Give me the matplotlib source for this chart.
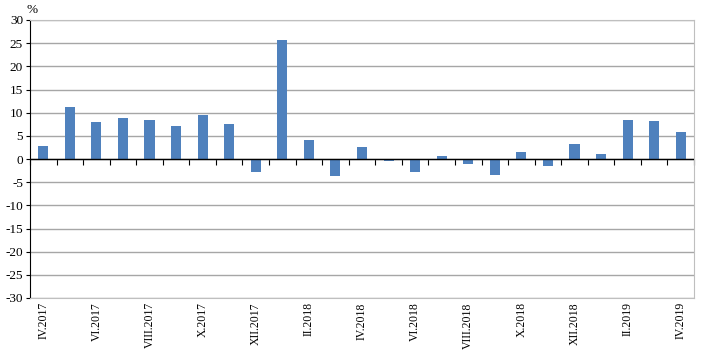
import matplotlib
matplotlib.use("Agg")
import matplotlib.pyplot as plt
import numpy as np

# Monthly data, IV.2017 - IV.2019
months = ["IV.2017", "V.2017", "VI.2017", "VII.2017", "VIII.2017", "IX.2017",
          "X.2017", "XI.2017", "XII.2017", "I.2018", "II.2018", "III.2018",
          "IV.2018", "V.2018", "VI.2018", "VII.2018", "VIII.2018", "IX.2018",
          "X.2018", "XI.2018", "XII.2018", "I.2019", "II.2019", "III.2019",
          "IV.2019"]
values = [2.7, 11.3, 7.9, 8.9, 8.5, 7.2,
          9.6, 7.6, -2.7, 25.6, 4.2, -3.7,
          2.5, -0.5, -2.7, 0.7, -1.1, -3.5,
          1.6, -1.6, 3.3, 1.1, 8.5, 8.1,
          5.9]

plt.rcParams['font.family'] = ['Liberation Serif', 'DejaVu Serif']
plt.rcParams['axes.unicode_minus'] = False

fig = plt.figure(figsize=(7.16, 3.54), dpi=100)
ax = fig.add_axes([30 / 716, 1 - 298 / 354, 664 / 716, 278 / 354])

x = np.arange(len(months))
ax.bar(x, values, width=0.38, color="#4F81BD", zorder=3)

ax.set_xlim(-0.5, len(months) - 0.5)
ax.set_ylim(-30, 30)
ax.set_yticks(np.arange(-30, 31, 5))
ax.yaxis.grid(True, color="#A6A6A6", linewidth=1.0, zorder=0)
ax.tick_params(axis="y", labelsize=9.5, length=3, pad=2)

# labels for every second month along the bottom
ax.set_xticks(x[::2])
ax.set_xticklabels(months[::2], rotation=90, fontsize=8.5)
ax.tick_params(axis="x", length=0, pad=3)

for side in ["top", "right", "bottom"]:
    ax.spines[side].set_color("#BFBFBF")
ax.spines["left"].set_color("black")

# zero axis with tick marks between categories
ax.axhline(0, color="black", linewidth=1.0, zorder=4)
sec = ax.secondary_xaxis(0.5)
sec.xaxis.set_ticks_position("bottom")
sec.set_xticks(np.arange(-0.5, len(months), 1.0))
sec.set_xticklabels([])
sec.tick_params(axis="x", direction="out", length=4, color="black",
                labelbottom=False, labeltop=False)
for s in sec.spines.values():
    s.set_visible(False)

fig.text(26 / 716, 1 - 10 / 354, "%", fontsize=9.5, va="center", ha="left")

fig.savefig("out.png", dpi=100)
